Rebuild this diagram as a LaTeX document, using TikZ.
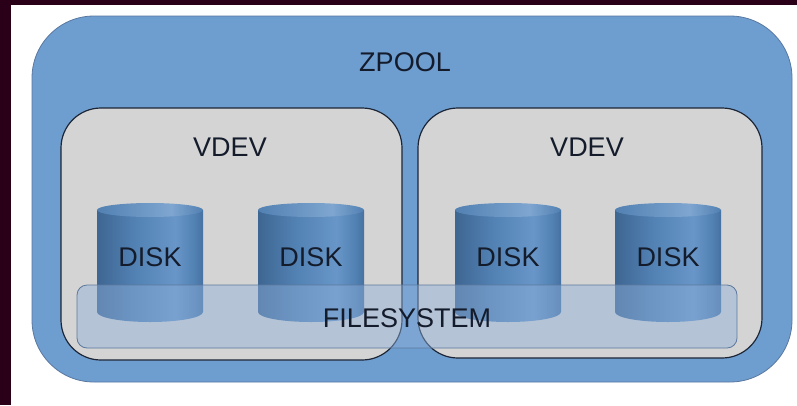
\documentclass[tikz,border=0pt]{standalone}
\usepackage{fontspec}
\setmainfont{Liberation Sans}
\definecolor{frame}{HTML}{2A0019}
\definecolor{poolblue}{HTML}{6E9DD0}
\definecolor{poolline}{HTML}{5878A0}
\definecolor{vdevgray}{HTML}{D5D4D4}
\definecolor{vdevline}{HTML}{1C2636}
\definecolor{txt}{HTML}{141C2C}
\definecolor{dA}{HTML}{3E6692}
\definecolor{dB}{HTML}{5180B2}
\definecolor{dC}{HTML}{6896C8}
\definecolor{dD}{HTML}{4672A2}
\definecolor{fsfill}{HTML}{8FB0DA}
\definecolor{fsline}{HTML}{5C789C}
\pgfdeclarehorizontalshading{diskshade}{100bp}{color(0bp)=(dA); color(25bp)=(dA); color(42bp)=(dB); color(62bp)=(dC); color(71bp)=(dB); color(75bp)=(dD); color(100bp)=(dD)}
\pgfdeclarehorizontalshading{disktop}{100bp}{color(0bp)=(dB); color(25bp)=(dB); color(60bp)=(dC!85!white); color(75bp)=(dB); color(100bp)=(dB)}
\tikzset{
  lbl/.style={font=\fontsize{27}{30}\selectfont, text=txt, inner sep=0pt},
  vdevbox/.style={fill=vdevgray, draw=vdevline, line width=1.2pt, rounded corners=40pt},
}
\newcommand{\mydisk}[2]{%
  \shade[shading=diskshade] (#1,210) -- (#1+106,210) -- (#1+106,312)
     arc[start angle=0,end angle=180,x radius=53,y radius=10] -- cycle;
  \shade[shading=disktop] (#1+53,210) ellipse[x radius=53,y radius=7];
  \node[lbl] (#2) at (#1+53,257) {DISK};
}
\begin{document}
\begin{tikzpicture}[x=1pt,y=-1pt]
\useasboundingbox (0,0) rectangle (797,405);
\fill[frame] (0,0) rectangle (797,405);
\fill[white] (11,5) rectangle (797,405);
% pool
\node[draw=poolline, fill=poolblue, line width=0.8pt, rounded corners=62pt,
  minimum width=760pt, minimum height=366pt, inner sep=0pt] (pool) at (412,199) {};
\node[lbl] (zpool) at (405,62) {ZPOOL};
% vdevs
\node[vdevbox, minimum width=341pt, minimum height=252pt, inner sep=0pt] (vdev1) at (231.5,234) {};
\node[vdevbox, minimum width=344pt, minimum height=250pt, inner sep=0pt] (vdev2) at (590,233) {};
\node[lbl] (v1) at (230,147) {VDEV};
\node[lbl] (v2) at (587,147) {VDEV};
% disks
\mydisk{97}{d1}
\mydisk{258}{d2}
\mydisk{455}{d3}
\mydisk{615}{d4}
% filesystem
\node[draw=fsline, fill=fsfill, fill opacity=0.45, line width=0.8pt, rounded corners=10pt,
  minimum width=660pt, minimum height=63pt, inner sep=0pt] (fs) at (407,316.5) {};
\node[lbl] (fslbl) at (407,318) {FILESYSTEM};
\end{tikzpicture}
\end{document}
